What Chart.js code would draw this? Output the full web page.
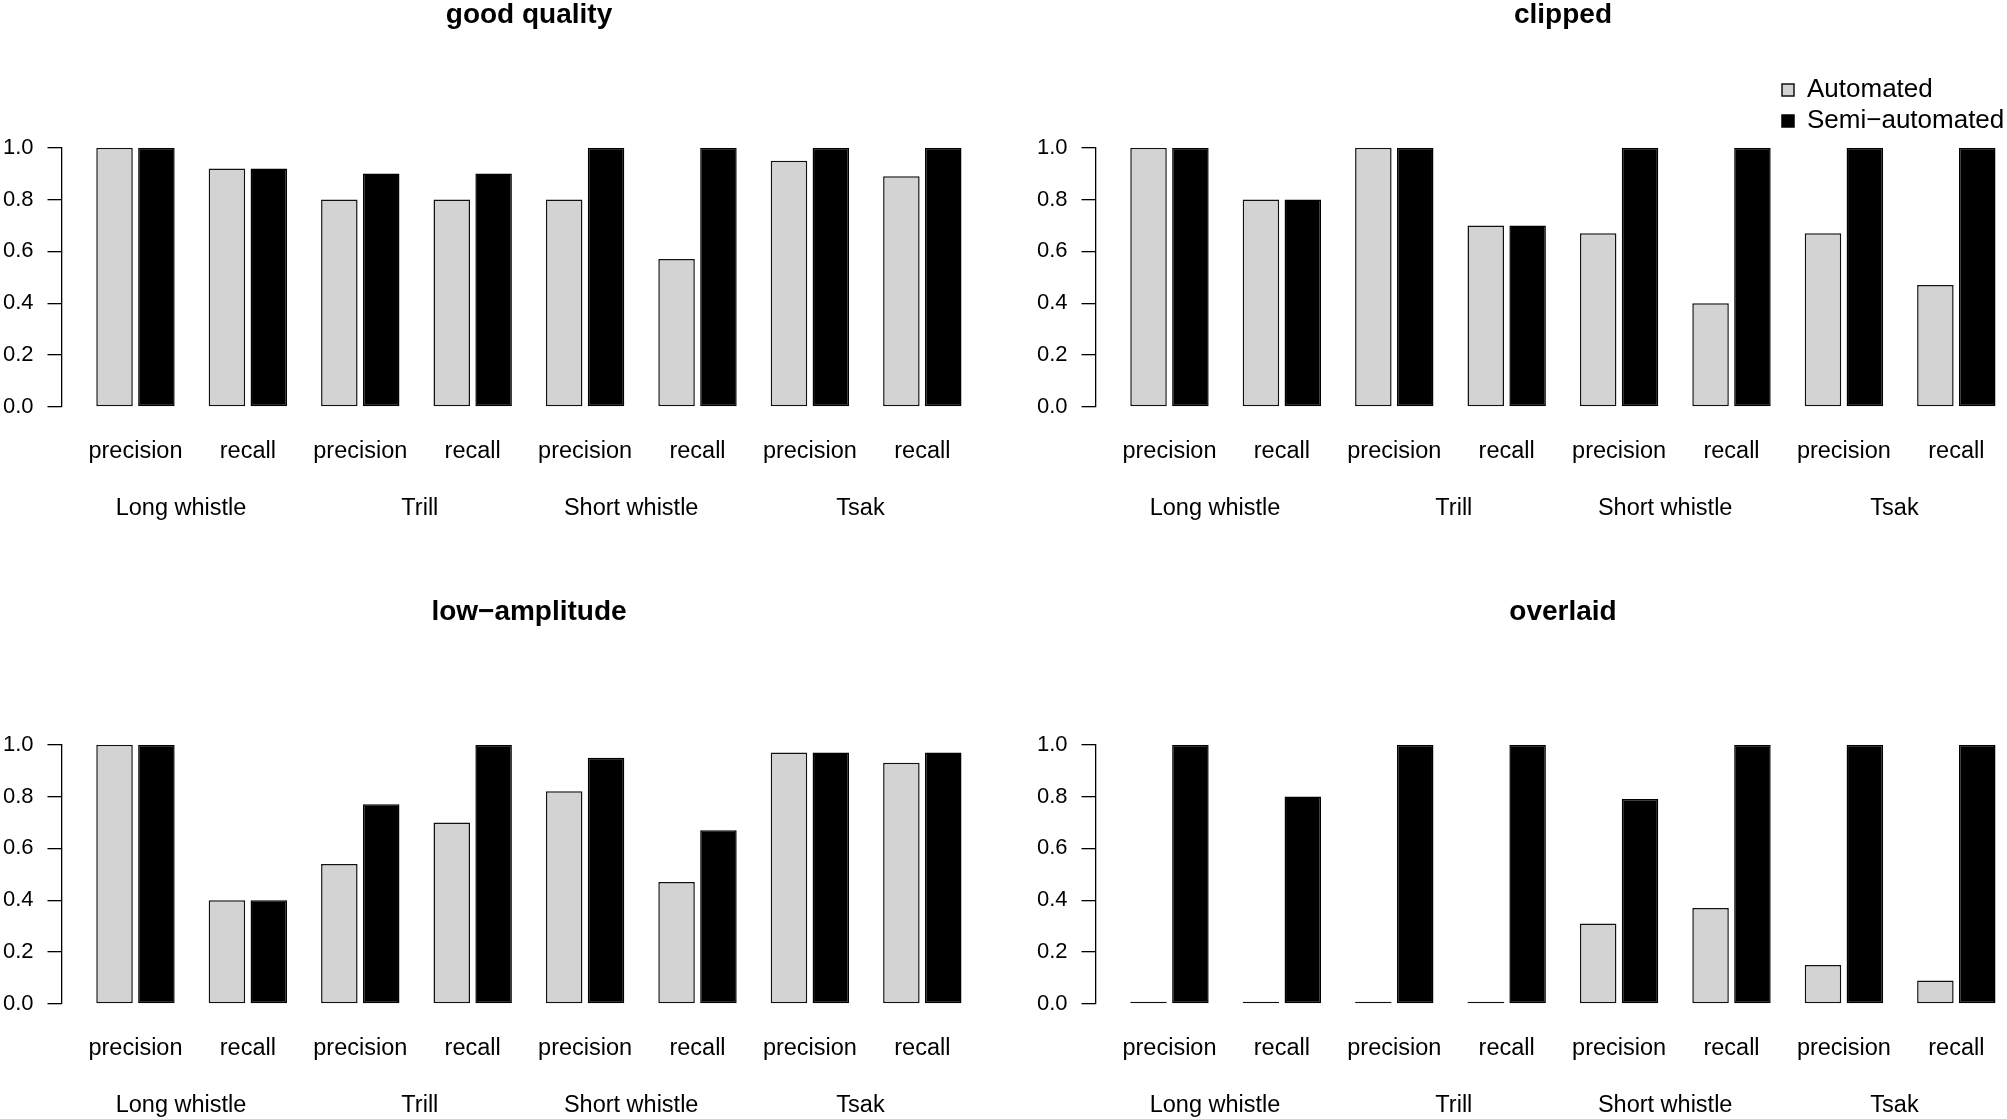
<!DOCTYPE html>
<html>
<head>
<meta charset="utf-8">
<script src="https://cdn.jsdelivr.net/npm/chart.js@4.4.1/dist/chart.umd.min.js"></script>
<style>
html, body { margin:0; padding:0; width:2007px; height:1119px; overflow:hidden; background:#fff; }
.p { position:absolute; }
</style>
</head>
<body>
<div class="p" style="left:0px;top:0px;width:1034px;height:597px"><canvas id="c0"></canvas></div>
<div class="p" style="left:1034px;top:0px;width:1034px;height:597px"><canvas id="c1"></canvas></div>
<div class="p" style="left:0px;top:597px;width:1034px;height:597px"><canvas id="c2"></canvas></div>
<div class="p" style="left:1034px;top:597px;width:1034px;height:597px"><canvas id="c3"></canvas></div>
<div class="p" style="left:1777px;top:72px;width:500px;height:120px"><canvas id="cl"></canvas></div>
<script>
// ---------- data ----------
const groups = ['Long whistle', 'Trill', 'Short whistle', 'Tsak'];
const metrics = ['precision', 'recall', 'precision', 'recall', 'precision', 'recall', 'precision', 'recall'];
const seriesNames = ['Automated', 'Semi\u2212automated'];
const panelTitles = ['good quality', 'clipped', 'low\u2212amplitude', 'overlaid'];
const yTickValues = [0, 0.2, 0.4, 0.6, 0.8, 1.0];
const yTickLabels = ['0.0', '0.2', '0.4', '0.6', '0.8', '1.0'];

const goodAuto    = [1.00, 0.92, 0.80, 0.80, 0.80, 0.57, 0.95, 0.89];
const goodSemi    = [1.00, 0.92, 0.90, 0.90, 1.00, 1.00, 1.00, 1.00];
const clippedAuto = [1.00, 0.80, 1.00, 0.70, 0.67, 0.40, 0.67, 0.47];
const clippedSemi = [1.00, 0.80, 1.00, 0.70, 1.00, 1.00, 1.00, 1.00];
const lowAuto     = [1.00, 0.40, 0.54, 0.70, 0.82, 0.47, 0.97, 0.93];
const lowSemi     = [1.00, 0.40, 0.77, 1.00, 0.95, 0.67, 0.97, 0.97];
const overAuto    = [0.00, 0.00, 0.00, 0.00, 0.31, 0.37, 0.15, 0.09];
const overSemi    = [1.00, 0.80, 1.00, 1.00, 0.79, 1.00, 1.00, 1.00];

// ---------- layout constants ----------
const X_MIN = -0.658, X_MAX = 7.66;
const groupLabelAt = [0.405, 2.53, 4.41, 6.45];
const FONT = "'Liberation Sans', Arial, Helvetica, sans-serif";
const AUTO_FILL = '#d3d3d3', AUTO_BORDER = '#111111', SEMI_FILL = '#000000';

Chart.defaults.font.family = FONT;
Chart.defaults.color = '#000';

function toPoints(arr) { return arr.map((v, i) => ({ x: i, y: v })); }

function makePanel(id, title, auto, semi) {
  const common = { borderWidth: 1.5, borderSkipped: false, minBarLength: 2,
                   xAxisID: 'x', yAxisID: 'y', categoryPercentage: 0.745, barPercentage: 0.872 };
  new Chart(document.getElementById(id), {
    type: 'bar',
    data: {
      datasets: [
        Object.assign({ label: seriesNames[0], data: toPoints(auto), backgroundColor: AUTO_FILL, borderColor: AUTO_BORDER }, common),
        Object.assign({ label: seriesNames[1], data: toPoints(semi), backgroundColor: SEMI_FILL, borderColor: SEMI_FILL }, common)
      ]
    },
    options: {
      responsive: true, maintainAspectRatio: false, animation: false, events: [],
      layout: { padding: { left: 0, right: 37.5, top: 0, bottom: 76.9 } },
      plugins: {
        legend: { display: false },
        tooltip: { enabled: false },
        title: { display: true, text: title, fullSize: false, color: '#000',
                 font: { size: 28, weight: 'bold', lineHeight: 1.1 },
                 padding: { top: 0, bottom: 116.9 } }
      },
      scales: {
        x: {
          type: 'linear', position: 'bottom', min: X_MIN, max: X_MAX, weight: 0, offset: false,
          grid: { display: false, drawTicks: false, offset: false }, border: { display: false },
          ticks: { autoSkip: false, maxRotation: 0, minRotation: 0, padding: 31, color: '#000',
                   font: { size: 23.5 }, callback: (v, i) => metrics[i] },
          afterBuildTicks: s => { s.ticks = metrics.map((m, i) => ({ value: i })); },
          afterFit: s => { s.height = 57.3; }
        },
        x2: {
          type: 'linear', axis: 'x', position: 'bottom', min: X_MIN, max: X_MAX, weight: 1, offset: false,
          grid: { display: false, drawTicks: false, offset: false }, border: { display: false },
          ticks: { autoSkip: false, maxRotation: 0, minRotation: 0, padding: 30, color: '#000',
                   font: { size: 23.5 }, callback: (v, i) => groups[i] },
          afterBuildTicks: s => { s.ticks = groupLabelAt.map(v => ({ value: v })); },
          afterFit: s => { s.height = 56; }
        },
        y: {
          type: 'linear', position: 'left', min: 0, max: 1,
          afterBuildTicks: s => { s.ticks = yTickValues.map(v => ({ value: v })); },
          ticks: { color: '#000', font: { size: 22 }, padding: 14, callback: (v, i) => yTickLabels[i] },
          grid: { drawOnChartArea: false, drawTicks: true, tickLength: 14, color: '#000', lineWidth: 1.3 },
          border: { display: true, color: '#000', width: 1.3 },
          afterFit: s => { s.width = 61.5; }
        }
      }
    }
  });
}

makePanel('c0', panelTitles[0], goodAuto, goodSemi);
makePanel('c1', panelTitles[1], clippedAuto, clippedSemi);
makePanel('c2', panelTitles[2], lowAuto, lowSemi);
makePanel('c3', panelTitles[3], overAuto, overSemi);

// legend (top right, as in the reference)
new Chart(document.getElementById('cl'), {
  type: 'bar',
  data: { datasets: [
    { label: seriesNames[0], data: [], backgroundColor: AUTO_FILL, borderColor: AUTO_BORDER, borderWidth: 1.5 },
    { label: seriesNames[1], data: [], backgroundColor: SEMI_FILL, borderColor: SEMI_FILL, borderWidth: 1.5 }
  ] },
  options: {
    responsive: true, maintainAspectRatio: false, animation: false, events: [],
    layout: { padding: 0 },
    scales: { x: { display: false }, y: { display: false } },
    plugins: {
      tooltip: { enabled: false },
      legend: { position: 'left', align: 'start',
                labels: { boxWidth: 12, boxHeight: 12, padding: 5, color: '#000', font: { size: 26 } } }
    }
  }
});
</script>
</body>
</html>
